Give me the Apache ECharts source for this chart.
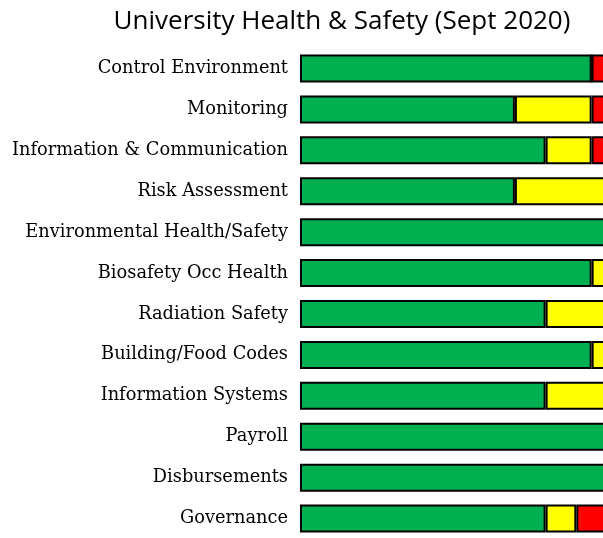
<!DOCTYPE html>
<html>
<head>
<meta charset="utf-8">
<script src="https://cdn.jsdelivr.net/npm/echarts@6/dist/echarts.min.js"></script>
<style>html,body{margin:0;padding:0;background:#fff;}#main{width:603px;height:538px;}</style>
</head>
<body>
<div id="main"></div>
<script>
const categories = ["Control Environment","Monitoring","Information & Communication","Risk Assessment","Environmental Health/Safety","Biosafety Occ Health","Radiation Safety","Building/Food Codes","Information Systems","Payroll","Disbursements","Governance"];
const greenValues  = [19,14,16,14,20,19,16,19,16,20,20,16];
const yellowValues = [0,5,3,6,0,1,4,1,4,0,0,2];
const redValues    = [1,1,1,0,0,0,0,0,0,0,0,2];

const chart = echarts.init(document.getElementById('main'), null, {renderer:'canvas'});
function seg(name, data, color){
  return {
    name, type:'bar', stack:'total', data, barWidth:28,
    itemStyle:{color, borderColor:'#000', borderWidth:2},
    emphasis:{disabled:true}
  };
}
chart.setOption({
  animation:false,
  title:{text:'University Health & Safety (Sept 2020)', left:337, textAlign:'center', top:4,
    textStyle:{fontFamily:'Open Sans', fontWeight:'normal', fontSize:26, color:'#000'}},
  grid:{left:300, top:48, width:307, height:491, outerBoundsMode:'none', containLabel:false},
  xAxis:{type:'value', min:0, max:20, show:false},
  yAxis:{type:'category', data:categories, inverse:true,
    axisLine:{show:false}, axisTick:{show:false},
    axisLabel:{fontFamily:'DejaVu Serif', fontSize:17.8, color:'#000', margin:12}},
  series:[seg('Green',greenValues,'#00B050'), seg('Yellow',yellowValues,'#FFFF00'), seg('Red',redValues,'#FF0000')]
});
</script>
</body>
</html>
